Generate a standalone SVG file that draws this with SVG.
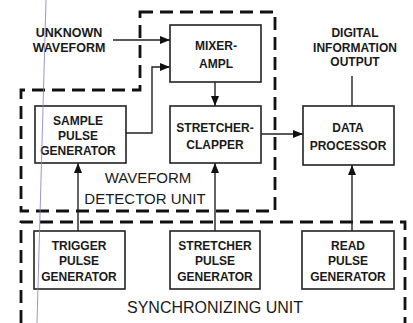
<svg xmlns="http://www.w3.org/2000/svg" width="413" height="323" viewBox="0 0 413 323">
<style>
.box{fill:#fff;stroke:#222;stroke-width:1.6}
.unit{fill:none;stroke:#111;stroke-width:2.8;stroke-dasharray:13 7}
.wire{fill:none;stroke:#222;stroke-width:1.4}
.t{font-family:"Liberation Sans",Arial,sans-serif;font-weight:bold;font-size:12px;fill:#1a1a1a;text-anchor:middle}
.u{font-family:"Liberation Sans",Arial,sans-serif;font-size:15px;fill:#1a1a1a;text-anchor:middle}
</style>
<defs>
<marker id="ah" viewBox="0 0 10 8" refX="10" refY="4" markerWidth="10" markerHeight="8" markerUnits="userSpaceOnUse" orient="auto">
<path d="M0,0 L10,4 L0,8 Z" fill="#111"/>
</marker>
</defs>
<rect width="413" height="323" fill="#fff"/>
<g id="units">
<path class="unit" d="M140,12 H275 V211 H21 V90 H140 Z"/>
<path class="unit" d="M21,323 V222 H405 V323"/>
<text class="u" x="148" y="183">WAVEFORM</text>
<text class="u" x="145" y="204">DETECTOR UNIT</text>
<text class="u" x="215" y="313" style="font-size:16px">SYNCHRONIZING UNIT</text>
</g>
<g id="connectors">
<path class="wire" d="M113,40 H170" marker-end="url(#ah)"/>
<path class="wire" d="M126,133 H152 V67 H170" marker-end="url(#ah)"/>
<path class="wire" d="M215,82 V106" marker-end="url(#ah)"/>
<path class="wire" d="M261,134 H303" marker-end="url(#ah)"/>
<path class="wire" d="M352,106 V76"/>
<path class="wire" d="M78,231 V163" marker-end="url(#ah)"/>
<path class="wire" d="M215,231 V163" marker-end="url(#ah)"/>
<path class="wire" d="M352,231 V165" marker-end="url(#ah)"/>
</g>
<g id="unknown-waveform">
<text class="t" x="69" y="37" style="font-size:12.5px">UNKNOWN</text>
<text class="t" x="69" y="52" style="font-size:12.5px">WAVEFORM</text>
</g>
<g id="digital-output">
<text class="t" x="355" y="37">DIGITAL</text>
<text class="t" x="355" y="52">INFORMATION</text>
<text class="t" x="355" y="66">OUTPUT</text>
</g>
<g id="mixer-ampl">
<rect class="box" x="170" y="25" width="91" height="57"/>
<text class="t" x="216" y="50">MIXER-</text>
<text class="t" x="216" y="68">AMPL</text>
</g>
<g id="sample-pulse-generator">
<rect class="box" x="35" y="106" width="91" height="57"/>
<text class="t" x="78" y="125">SAMPLE</text>
<text class="t" x="78" y="140">PULSE</text>
<text class="t" x="78" y="155">GENERATOR</text>
</g>
<g id="stretcher-clapper">
<rect class="box" x="170" y="106" width="91" height="57"/>
<text class="t" x="215" y="132">STRETCHER-</text>
<text class="t" x="215" y="149">CLAPPER</text>
</g>
<g id="data-processor">
<rect class="box" x="303" y="106" width="91" height="59"/>
<text class="t" x="348" y="132">DATA</text>
<text class="t" x="348" y="150">PROCESSOR</text>
</g>
<g id="trigger-pulse-generator">
<rect class="box" x="34" y="231" width="91" height="58"/>
<text class="t" x="79" y="250">TRIGGER</text>
<text class="t" x="79" y="265">PULSE</text>
<text class="t" x="79" y="281">GENERATOR</text>
</g>
<g id="stretcher-pulse-generator">
<rect class="box" x="170" y="231" width="90" height="58"/>
<text class="t" x="215" y="250">STRETCHER</text>
<text class="t" x="215" y="265">PULSE</text>
<text class="t" x="215" y="281">GENERATOR</text>
</g>
<g id="read-pulse-generator">
<rect class="box" x="302" y="231" width="92" height="58"/>
<text class="t" x="348" y="250">READ</text>
<text class="t" x="348" y="265">PULSE</text>
<text class="t" x="348" y="281">GENERATOR</text>
</g>
<line x1="46" y1="0" x2="37" y2="323" stroke="#8a7cc0" stroke-width="1" opacity="0.8"/>
</svg>
